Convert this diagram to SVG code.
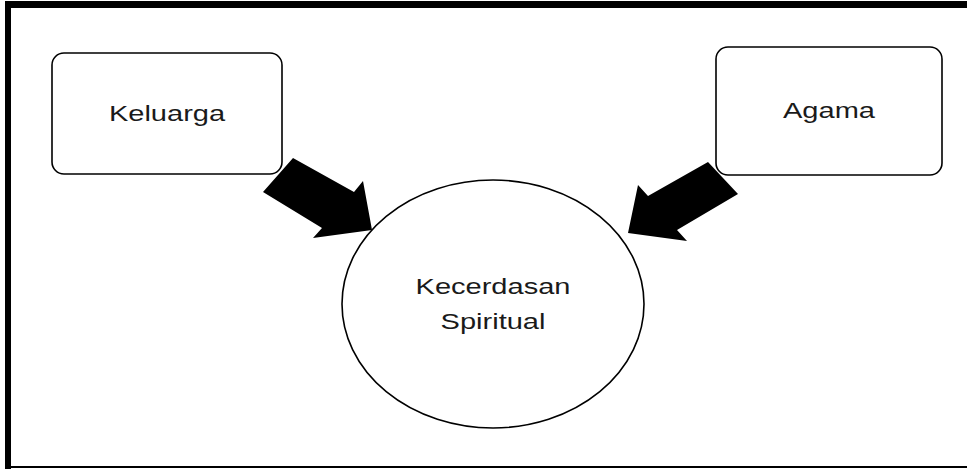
<svg xmlns="http://www.w3.org/2000/svg" width="967" height="469" viewBox="0 0 967 469">
  <style>
    .box { fill: #ffffff; stroke: #000000; stroke-width: 1.6; }
    .lbl { font-family: "Liberation Sans", Arial, sans-serif; font-size: 22px; fill: #1a1a1a; text-anchor: middle; }
    .arrow { fill: #000000; stroke: none; }
    .frame { fill: #000000; }
  </style>
  <rect x="0" y="0" width="967" height="469" fill="#ffffff"/>
  <g id="frame">
    <rect class="frame" x="5" y="1" width="962" height="7"/>
    <rect class="frame" x="5" y="1" width="6" height="468"/>
    <rect class="frame" x="5" y="466" width="962" height="2"/>
  </g>
  <g id="keluarga">
    <rect class="box" x="52" y="53" width="230" height="121" rx="12" ry="12"/>
    <text class="lbl" transform="translate(167,121) scale(1.32,1)">Keluarga</text>
  </g>
  <g id="agama">
    <rect class="box" x="716" y="47" width="226" height="128" rx="12" ry="12"/>
    <text class="lbl" transform="translate(829,118) scale(1.32,1)">Agama</text>
  </g>
  <g id="kecerdasan">
    <ellipse class="box" cx="493" cy="304" rx="151" ry="124"/>
    <text class="lbl" transform="translate(493,294) scale(1.32,1)">Kecerdasan</text>
    <text class="lbl" transform="translate(493,329) scale(1.32,1)">Spiritual</text>
  </g>
  <g id="connectors">
    <polygon class="arrow" points="293,158 354,192 363,181 372,230 313,238 322,228 263,192"/>
    <polygon class="arrow" points="708,162 738,194 677,230 687,241 628,233 638,185 648,196"/>
  </g>
</svg>
